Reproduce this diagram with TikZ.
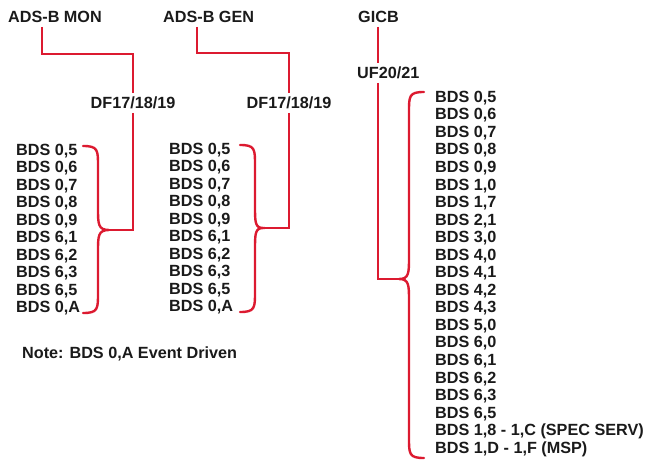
\documentclass[tikz,border=0pt]{standalone}
\usepackage{fontspec}
\setmainfont{Liberation Sans}
\usetikzlibrary{positioning, calc}
\definecolor{cred}{HTML}{DC1A30}
\definecolor{cink}{HTML}{1A1A1A}
\tikzset{
  every picture/.style={x=1pt, y=-1pt, font=\fontsize{16.2}{18}\selectfont\bfseries, text=cink},
  head/.style={inner xsep=0pt, inner ysep=4pt, text height=11.5pt, text depth=0pt},
  item/.style={anchor=west, inner sep=0pt, text height=11.5pt, text depth=3pt},
  wire/.style={draw=cred, line width=2.4pt},
  brace/.style={draw=cred, line width=2.4pt, line cap=round},
}

\begin{document}
\begin{tikzpicture}
  \useasboundingbox (0,0) rectangle (647,460);
  % headings
  \node[head, anchor=west] (mon) at (8,17) {ADS-B MON};
  \node[head, anchor=west] (gen) at (163,17) {ADS-B GEN};
  \node[head, anchor=west] (gicb) at (358,17) {GICB};
  \node[head] (dfA) at (133,103) {DF17/18/19};
  \node[head] (dfB) at (289,103) {DF17/18/19};
  \node[head, anchor=west] (uf) at (357,73) {UF20/21};
  % bends and brace tips
  \coordinate (jA) at (42,54);
  \coordinate (jB) at (197,53);
  \coordinate (tipA) at (108,230);
  \coordinate (tipB) at (262,228);
  \coordinate (tipC) at (400,279);
  % lists
  \foreach \t [count=\i] in {{0,5},{0,6},{0,7},{0,8},{0,9},{6,1},{6,2},{6,3},{6,5},{0,A}} {
    \node[item] (bdsA-\i) at (16,{151+(\i-1)*17.5}) {BDS \t};
    \node[item] (bdsB-\i) at (169,{150+(\i-1)*17.5}) {BDS \t};
  }
  \foreach \t [count=\i] in {{0,5},{0,6},{0,7},{0,8},{0,9},{1,0},{1,7},{2,1},{3,0},{4,0},{4,1},{4,2},{4,3},{5,0},{6,0},{6,1},{6,2},{6,3},{6,5},{1,8 - 1,C (SPEC SERV)},{1,D - 1,F (MSP)}}
    \node[item] (bdsC-\i) at (435,{98+(\i-1)*17.55}) {BDS \t};
  \node[item] (note) at (22,354) {Note: BDS 0,A Event Driven};
  % connectors
  \draw[wire] (mon.south -| jA) -- (jA) -| (dfA.north);
  \draw[wire] (gen.south -| jB) -- (jB) -| (dfB.north);
  \draw[wire] (gicb.south -| 378,0) -- (uf.north -| 378,0);
  \draw[wire] (dfA.south) |- (tipA);
  \draw[wire] (dfB.south) |- (tipB);
  \draw[wire] (uf.south -| 378,0) |- (tipC);
  % braces
  \foreach \xe/\xv/\xt/\yt/\ym/\yb in {83/98/109/146/230/313, 240/255/263/145/228/312, 424/409/399/92/279/458}
    \draw[brace] (\xe,\yt) .. controls (\xv,\yt) and (\xv,\yt+4) .. (\xv,\yt+20) -- (\xv,\ym-22)
      .. controls (\xv,\ym-6) and (\xv,\ym) .. (\xt,\ym) .. controls (\xv,\ym) and (\xv,\ym+6) .. (\xv,\ym+22)
      -- (\xv,\yb-20) .. controls (\xv,\yb-4) and (\xv,\yb) .. (\xe,\yb);
\end{tikzpicture}
\end{document}
